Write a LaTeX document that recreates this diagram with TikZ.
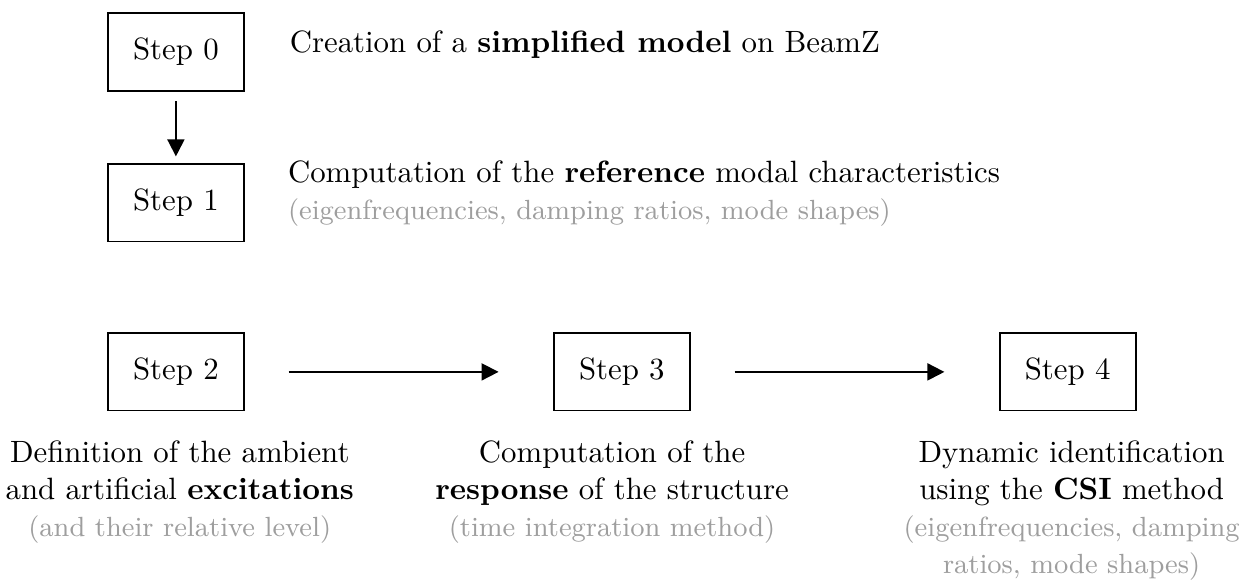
\documentclass[tikz,border=0pt]{standalone}
\usetikzlibrary{arrows.meta}
\tikzset{
  stepbox/.style={draw,semithick,minimum width=1.55cm,minimum height=0.88cm},
  note/.style={align=center},
  flow/.style={semithick,-{Triangle[length=5.5pt,width=5.5pt]}}
}
\newcommand{\aside}[1]{{\small\textcolor{black!38}{#1}}}
\begin{document}
\begin{tikzpicture}
	  \useasboundingbox (0,0) rectangle (14.22,-6.62);
	  \node[stepbox] (s0) at (2.006,-0.593) {Step 0};
	  \node[stepbox] (s1) at (2.006,-2.314) {Step 1};
	  \node[stepbox] (s2) at (2.006,-4.241) {Step 2};
	  \node[stepbox] (s3) at (7.091,-4.241) {Step 3};
	  \node[stepbox] (s4) at (12.175,-4.241) {Step 4};
	  \node[anchor=base west] (t0) at (3.18,-0.604)
	    {Creation of a \textbf{simplified model} on BeamZ};
	  \node[anchor=base west,align=left] (t1) at (3.16,-2.508)
	    {Computation of the \textbf{reference} modal characteristics\\
	     \aside{(eigenfrequencies, damping ratios, mode shapes)}};
	  \begin{scope}[note,anchor=base]
	    \node (t2) at (2.05,-6.122)
	      {Definition of the ambient\\ and artificial \textbf{excitations}\\
	       \aside{(and their relative level)}};
	    \node (t3) at (6.98,-6.122)
	      {Computation of the\\ \textbf{response} of the structure\\
	       \aside{(time integration method)}};
	    \node (t4) at (12.22,-6.544)
	      {Dynamic identification\\ using the \textbf{CSI} method\\
	       \aside{(eigenfrequencies, damping}\\ \aside{ratios, mode shapes)}};
	  \end{scope}
	  \draw[flow,shorten <=0.11cm,shorten >=0.08cm] (s0) -- (s1);
	  \draw[flow,shorten <=0.50cm,shorten >=0.62cm] (s2) -- (s3);
	  \draw[flow,shorten <=0.50cm,shorten >=0.62cm] (s3) -- (s4);
	\end{tikzpicture}
\end{document}
